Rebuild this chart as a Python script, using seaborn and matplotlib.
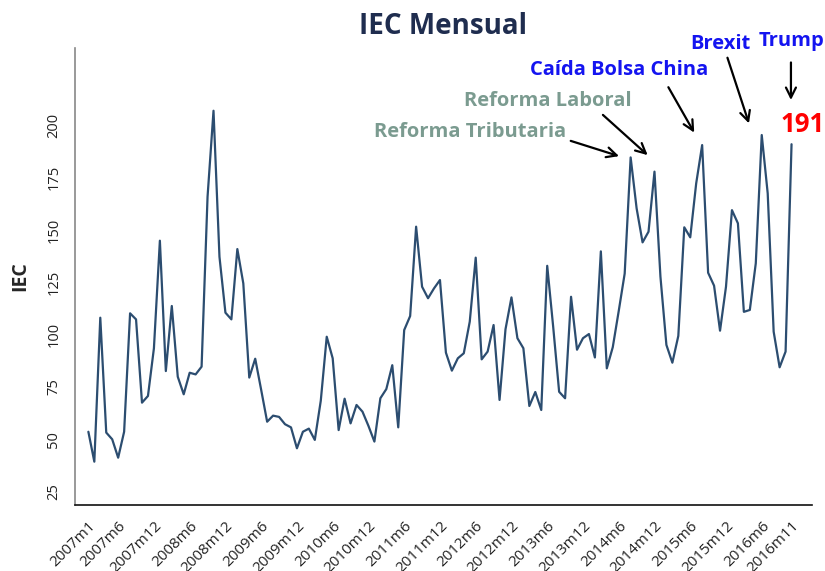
import matplotlib
matplotlib.use("Agg")
import matplotlib.pyplot as plt
import seaborn as sns
import pandas as pd

# IEC monthly values, 2007m1 .. 2016m11
iec = [53.6, 39.3, 108.1, 53.2, 50.0, 41.2, 53.6, 110.2, 107.3, 67.5,
       70.7, 93.5, 144.9, 82.6, 113.7, 79.9, 71.5, 81.8, 81.0, 84.7,
       165.9, 207.0, 137.2, 110.5, 107.3, 140.9, 124.5, 79.5, 88.5, 73.6,
       58.4, 61.3, 60.7, 57.2, 55.7, 45.7, 53.6, 55.1, 49.7, 68.4,
       99.0, 88.7, 54.4, 69.4, 57.6, 66.4, 63.2, 56.4, 48.9, 69.6,
       74.0, 85.4, 55.7, 102.2, 108.9, 151.6, 122.9, 117.4, 122.1, 126.1,
       91.4, 82.8, 88.7, 91.1, 106.2, 136.8, 88.2, 91.9, 104.6, 68.8,
       102.6, 117.8, 98.3, 93.5, 65.9, 72.6, 64.0, 132.9, 103.8, 72.7,
       69.6, 118.1, 92.8, 98.3, 100.3, 89.1, 139.8, 83.9, 94.0, 111.3,
       129.2, 184.7, 160.4, 144.1, 149.2, 177.9, 127.7, 95.1, 86.6, 99.4,
       151.3, 146.5, 172.3, 190.6, 129.6, 123.4, 101.9, 122.9, 159.5, 153.2,
       110.9, 111.8, 134.1, 195.4, 167.5, 101.4, 84.4, 91.9, 191.0]

periods = [f"{2007 + k // 12}m{k % 12 + 1}" for k in range(len(iec))]
tick_labels = ["2007m1", "2007m6", "2007m12", "2008m6", "2008m12", "2009m6",
               "2009m12", "2010m6", "2010m12", "2011m6", "2011m12", "2012m6",
               "2012m12", "2013m6", "2013m12", "2014m6", "2014m12", "2015m6",
               "2015m12", "2016m6", "2016m11"]
y_ticks = [25, 50, 75, 100, 125, 150, 175, 200]

# events: label, colour, text position, arrow tail, arrow tip
events = [
    ("Reforma Tributaria", "#7b9b90", (64.0, 196.8), (80.5, 193.0), (89.5, 184.9)),
    ("Reforma Laboral", "#7b9b90", (77.1, 211.7), (86.0, 205.9), (94.2, 184.9)),
    ("Caída Bolsa China", "#1414f0", (89.0, 226.5), (97.1, 219.4), (101.9, 195.4)),
    ("Brexit", "#1414f0", (106.0, 238.9), (107.1, 233.6), (111.0, 199.7)),
    ("Trump", "#1414f0", (118.0, 240.5), (117.9, 231.4), (117.9, 210.8)),
]

df = pd.DataFrame({"t": range(len(iec)), "periodo": periods, "IEC": iec})

sns.set_style("white")
plt.rcParams["font.family"] = ["Open Sans", "DejaVu Sans"]

fig = plt.figure(figsize=(8.25, 5.71), dpi=100)
ax = fig.add_axes([0.0905, 0.1156, 0.8935, 0.8004])

sns.lineplot(data=df, x="t", y="IEC", color="#2c4d70", linewidth=1.6, ax=ax)

ax.set_xlim(-2.3, 121.4)
ax.set_ylim(18.6, 237)
ax.set_yticks(y_ticks)
ax.set_yticklabels([str(v) for v in y_ticks], rotation=90, va="center", fontsize=10.5)
pos = [periods.index(p) for p in tick_labels]
ax.set_xticks(pos)
ax.set_xticklabels(tick_labels, rotation=45, ha="right", rotation_mode="anchor", fontsize=11)
ax.tick_params(axis="both", direction="out", length=6, width=1.2, colors="#777777", labelcolor="#222222")

for side in ["top", "right"]:
    ax.spines[side].set_visible(False)
ax.spines["left"].set_color("#888888")
ax.spines["left"].set_linewidth(1.2)
ax.spines["bottom"].set_color("#111111")
ax.spines["bottom"].set_linewidth(1.2)

ax.set_xlabel("")
ax.set_ylabel("IEC", fontsize=14, fontweight="bold", labelpad=12)
ax.set_title("IEC Mensual", fontsize=20, fontweight="bold", color="#1f2d4f", pad=10)

for label, col, txt, tail, tip in events:
    ax.text(txt[0], txt[1], label, color=col, fontsize=14.5, fontweight="bold",
            ha="center", va="center", clip_on=False)
    ax.annotate("", xy=tip, xytext=tail,
                arrowprops=dict(arrowstyle="->", color="black", lw=1.6,
                                mutation_scale=18), annotation_clip=False)

ax.text(119.9, 200.6, "191", color="#ff0000", fontsize=18.5, fontweight="bold",
        ha="center", va="center", clip_on=False)

fig.savefig("out.png", dpi=100)
